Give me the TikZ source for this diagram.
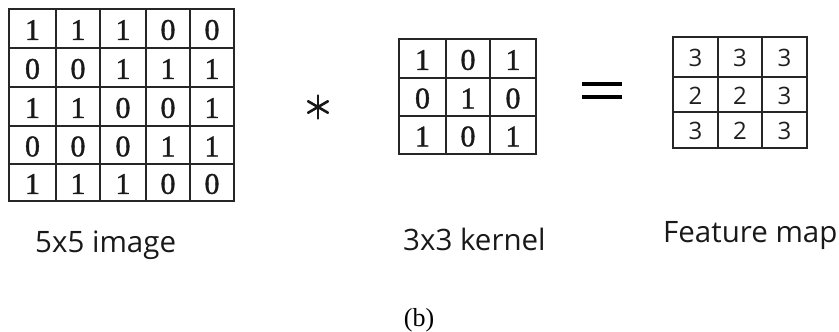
\documentclass[tikz,border=0pt]{standalone}
\usepackage{fontspec}
\setmainfont{Liberation Serif}
\newfontfamily\digitfont[FakeBold=1.2]{Liberation Serif}
\newfontfamily\labelfont{Open Sans}
\begin{document}
\begin{tikzpicture}[x=1pt,y=-1pt,
  gridline/.style={line width=1.8pt, draw=black!85, line cap=rect},
  serifdigit/.style={font=\digitfont\fontsize{30}{30}\selectfont, inner sep=0pt, text=black!90},
  sansdigit/.style={font=\labelfont\fontsize{24}{24}\selectfont, inner sep=0pt, text=black!88},
  caption/.style={font=\labelfont\fontsize{29.5}{31}\selectfont, inner sep=0pt, anchor=base west, text=black!90},
  subcap/.style={font=\fontsize{26}{28}\selectfont, inner sep=0pt, anchor=base, text=black},
  opline/.style={line width=3.4pt, draw=black},
  astline/.style={line width=2.6pt, draw=black!90, line cap=round},
]
\useasboundingbox (0,0) rectangle (839,332);
% ---------- 5x5 image ----------
\draw[gridline] (9,9) rectangle (234,201);
\foreach \x in {56,100,146,190} \draw[gridline] (\x,9) -- (\x,201);
\foreach \y in {48,87,126,164} \draw[gridline] (9,\y) -- (234,\y);
\def\imgx{{32.5,78,123,168,212}}
\def\imgy{{30,69,108,146.5,184}}
\foreach \row [count=\r from 0] in {{1,1,1,0,0},{0,0,1,1,1},{1,1,0,0,1},{0,0,0,1,1},{1,1,1,0,0}} {
  \foreach \v [count=\c from 0] in \row {
    \pgfmathsetmacro\px{\imgx[\c]}
    \pgfmathsetmacro\py{\imgy[\r]}
    \node[serifdigit] (img-\r-\c) at (\px,\py) {\v};
  }
}
% ---------- kernel ----------
\draw[gridline] (399,39) rectangle (536,154);
\foreach \x in {446,490} \draw[gridline] (\x,39) -- (\x,154);
\foreach \y in {78,116} \draw[gridline] (399,\y) -- (536,\y);
\def\kerx{{422.5,468,513}}
\def\kery{{60,98.5,136.5}}
\foreach \row [count=\r from 0] in {{1,0,1},{0,1,0},{1,0,1}} {
  \foreach \v [count=\c from 0] in \row {
    \pgfmathsetmacro\px{\kerx[\c]}
    \pgfmathsetmacro\py{\kery[\r]}
    \node[serifdigit] (ker-\r-\c) at (\px,\py) {\v};
  }
}
% ---------- feature map ----------
\draw[gridline] (673,37) rectangle (807,148);
\foreach \x in {718,762} \draw[gridline] (\x,37) -- (\x,148);
\foreach \y in {77,112} \draw[gridline] (673,\y) -- (807,\y);
\def\fmx{{695.5,740,784.5}}
\def\fmy{{58.3,95.8,131.3}}
\foreach \row [count=\r from 0] in {{3,3,3},{2,2,3},{3,2,3}} {
  \foreach \v [count=\c from 0] in \row {
    \pgfmathsetmacro\px{\fmx[\c]}
    \pgfmathsetmacro\py{\fmy[\r]}
    \node[sansdigit] (fm-\r-\c) at (\px,\py) {\v};
  }
}
% ---------- operators ----------
\coordinate (ast) at (318,107);
\foreach \a in {90,30,150}
  \draw[astline] ([shift={(\a:11.5)}]ast) -- ([shift={(\a+180:11.5)}]ast);
\coordinate (eqa1) at (582,84);
\coordinate (eqb1) at (622,84);
\coordinate (eqa2) at (582,97);
\coordinate (eqb2) at (622,97);
\draw[opline] (eqa1) -- (eqb1);
\draw[opline] (eqa2) -- (eqb2);
% ---------- captions ----------
\node[caption] (capimg) at (35,252) {5x5 image};
\node[caption] (capker) at (403,250) {3x3 kernel};
\node[caption] (capfm) at (663,242) {Feature map};
\node[subcap] (capb) at (419,326) {(b)};
\end{tikzpicture}
\end{document}
